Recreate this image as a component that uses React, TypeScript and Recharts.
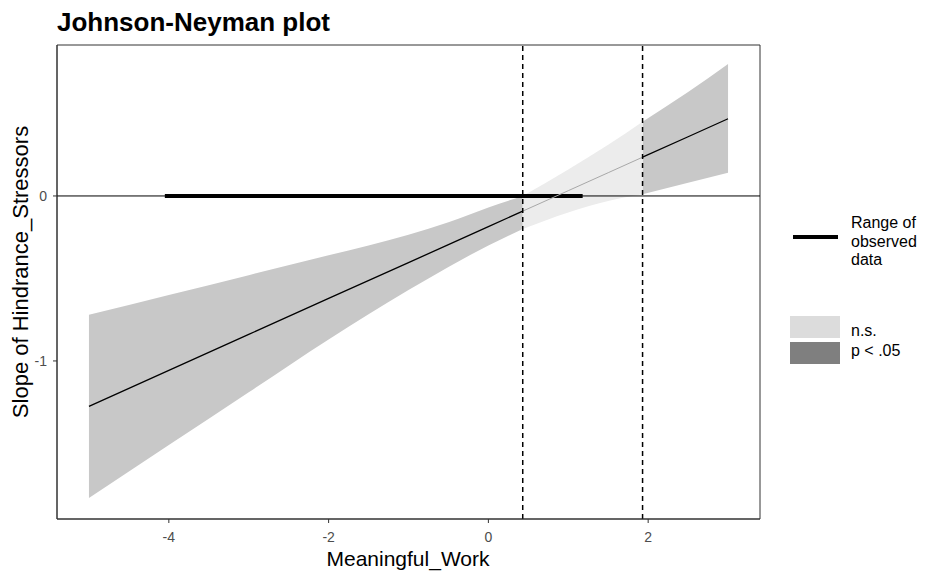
import {
  Area,
  ComposedChart,
  Line,
  ReferenceArea,
  ReferenceLine,
  XAxis,
  YAxis,
} from "recharts";

const modValues = [-5, -4, -3, -2, -1, -0.5, 0, 0.43, 1, 1.5, 1.93, 2.5, 3];
const slopeValues = [-1.275, -1.057, -0.839, -0.621, -0.404, -0.295, -0.186, -0.092, 0.032, 0.141, 0.235, 0.359, 0.468];
const ciUpper = [-0.72, -0.6, -0.48, -0.36, -0.235, -0.16, -0.07, 0.0, 0.16, 0.31, 0.45, 0.63, 0.8];
const ciLower = [-1.83, -1.51, -1.19, -0.87, -0.57, -0.43, -0.3, -0.2, -0.1, -0.03, 0.01, 0.08, 0.14];

// Johnson-Neyman interval bounds
const jnLow = 0.43;
const jnHigh = 1.93;

// observed range of the moderator
const observedMin = -4.05;
const observedMax = 1.18;

const xTicks = [-4, -2, 0, 2];
const yTicks = [-1, 0];
const xDomain = [-5.4, 3.4];
const yDomain = [-1.958, 0.915];

const FONT = '"Liberation Sans", Arial, sans-serif';

const rows = modValues.map((x, i) => {
  const sig = x <= jnLow || x >= jnHigh;
  const ns = x >= jnLow && x <= jnHigh;
  const band = [ciLower[i], ciUpper[i]];
  return {
    x,
    sigBand: sig ? band : null,
    nsBand: ns ? band : null,
    sigLine: sig ? slopeValues[i] : null,
    nsLine: ns ? slopeValues[i] : null,
  };
});

export default function App() {
  const tickStyle = { fill: "#4d4d4d", fontSize: 14, fontFamily: FONT };

  return (
    <div style={{ position: "absolute", left: 0, top: 0, width: 925, height: 572, background: "#fff" }}>
      <ComposedChart
        width={925}
        height={572}
        data={rows}
        margin={{ top: 45, right: 165, left: 12, bottom: 23 }}
      >
        <XAxis
          dataKey="x"
          type="number"
          domain={xDomain}
          ticks={xTicks}
          allowDataOverflow
          height={30}
          tick={tickStyle}
          tickSize={4}
          tickMargin={9}
          axisLine={{ stroke: "#333" }}
          tickLine={{ stroke: "#333" }}
        />
        <YAxis
          type="number"
          domain={yDomain}
          ticks={yTicks}
          allowDataOverflow
          width={45}
          tick={tickStyle}
          tickSize={4}
          tickMargin={6}
          axisLine={{ stroke: "#333" }}
          tickLine={{ stroke: "#333" }}
        />
        <Area
          dataKey="sigBand"
          type="monotone"
          fill="#c8c8c8"
          fillOpacity={1}
          stroke="none"
          isAnimationActive={false}
        />
        <Area
          dataKey="nsBand"
          type="monotone"
          fill="#ececec"
          fillOpacity={1}
          stroke="none"
          isAnimationActive={false}
        />
        <ReferenceLine y={0} stroke="#000" strokeWidth={1} />
        <ReferenceLine
          segment={[
            { x: observedMin, y: 0 },
            { x: observedMax, y: 0 },
          ]}
          stroke="#000"
          strokeWidth={4}
        />
        <Line
          dataKey="sigLine"
          type="linear"
          stroke="#000"
          strokeWidth={1.3}
          dot={false}
          isAnimationActive={false}
        />
        <Line
          dataKey="nsLine"
          type="linear"
          stroke="#a8a8a8"
          strokeWidth={1}
          dot={false}
          isAnimationActive={false}
        />
        <ReferenceLine x={jnLow} stroke="#000" strokeWidth={1.5} strokeDasharray="5 4" />
        <ReferenceLine x={jnHigh} stroke="#000" strokeWidth={1.5} strokeDasharray="5 4" />
        <ReferenceArea
          x1={xDomain[0]}
          x2={xDomain[1]}
          y1={yDomain[0]}
          y2={yDomain[1]}
          fill="none"
          stroke="#333"
          strokeWidth={1}
        />
      </ComposedChart>

      <svg
        width={925}
        height={572}
        style={{ position: "absolute", left: 0, top: 0, pointerEvents: "none" }}
        fontFamily={FONT}
      >
        <text x={57} y={31} fontSize={26} fontWeight="bold" fill="#000">
          Johnson-Neyman plot
        </text>
        <text x={408} y={566} fontSize={21} textAnchor="middle" fill="#000">
          Meaningful_Work
        </text>
        <text
          x={28}
          y={272}
          fontSize={22}
          textAnchor="middle"
          fill="#000"
          transform="rotate(-90 28 272)"
        >
          Slope of Hindrance_Stressors
        </text>

        {/* legend */}
        <line x1={793} x2={838} y1={237} y2={237} stroke="#000" strokeWidth={4} />
        <text x={851} y={228} fontSize={16} fill="#000">Range of</text>
        <text x={851} y={246.5} fontSize={16} fill="#000">observed</text>
        <text x={851} y={265} fontSize={16} fill="#000">data</text>
        <rect x={790} y={316} width={50} height={22} fill="#dcdcdc" />
        <rect x={790} y={342} width={50} height={22} fill="#7f7f7f" />
        <text x={851} y={336} fontSize={16} fill="#000">n.s.</text>
        <text x={851} y={356} fontSize={16} fill="#000">p &lt; .05</text>
      </svg>
    </div>
  );
}
